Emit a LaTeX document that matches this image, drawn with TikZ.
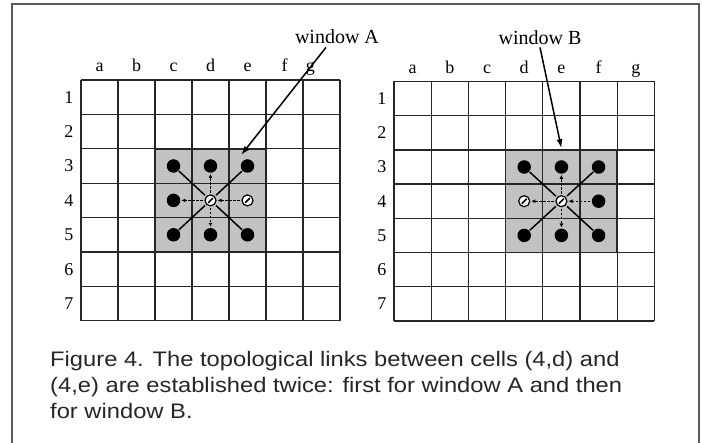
\documentclass[tikz,border=0pt]{standalone}
\usepackage{fontspec}
\usetikzlibrary{arrows.meta,calc}
\newfontfamily\capfont[FakeStretch=1.13]{Liberation Sans}
\newfontfamily\gridfont{Liberation Serif}
\begin{document}
\begin{tikzpicture}[x=1pt,y=-1pt,
  gridline/.style={line width=1.3pt, black!85},
  winfill/.style={fill=black!24},
  winedge/.style={line width=1.6pt, black!85},
  lbl/.style={font=\gridfont\fontsize{18}{20}\selectfont, inner sep=0pt},
  winlbl/.style={font=\gridfont\fontsize{20}{22}\selectfont, inner sep=0pt, anchor=base},
  dot/.style={circle, fill=black, inner sep=0pt, minimum size=13.5pt},
  hatch/.style={circle, draw=black, fill=white, line width=1.2pt, inner sep=0pt, minimum size=11pt,
    path picture={\draw[line width=1.6pt]
      ($(path picture bounding box.south west)!0.28!(path picture bounding box.north east)$) --
      ($(path picture bounding box.south west)!0.72!(path picture bounding box.north east)$);}},
  diag/.style={line width=1.5pt, shorten <=0.5pt, shorten >=1.5pt},
  ortho/.style={line width=1.2pt, dash pattern=on 2.5pt off 1.5pt,
    -{Latex[length=4pt,width=4pt]}, shorten <=1.5pt, shorten >=1pt},
  callout/.style={line width=1.5pt, -{Latex[length=9pt,width=6pt]}},
  captxt/.style={font=\capfont\fontsize{21}{26}\selectfont, inner sep=0pt, anchor=base west, text=black!85}
]
\useasboundingbox (0,0) rectangle (702,443);
% outer frame (open at the bottom)
\draw[line width=1.8pt, black!65] (12,443) -- (12,4) -- (699,4) -- (699,443);

% ---------- left grid (window A) ----------
\begin{scope}[xshift=81pt, yshift=-80pt, x=37pt, y=-34.4pt]
  \fill[winfill] (2,2) rectangle (5,5);
  \foreach \i in {0,...,7} {
    \draw[gridline] (\i,0) -- (\i,7);
    \draw[gridline] (0,\i) -- (7,\i);
  }
  \draw[winedge] (2,2) rectangle (5,5);
  \foreach \c [count=\k from 0] in {a,b,c,d,e,f} {
    \node[lbl, anchor=base] (Acol\c) at (\k+0.5,-0.24) {\c};
  }
  \node[lbl, anchor=base] (Acolg) at (6.2,-0.24) {g};
  \foreach \r in {1,...,7} {
    \node[lbl, anchor=base east] (Arow\r) at (-0.2,\r-0.33) {\r};
  }
  \node[dot]   (A3c) at (2.5,2.5) {};
  \node[dot]   (A3d) at (3.5,2.5) {};
  \node[dot]   (A3e) at (4.5,2.5) {};
  \node[dot]   (A4c) at (2.5,3.5) {};
  \node[hatch] (A4d) at (3.5,3.5) {};
  \node[hatch] (A4e) at (4.5,3.5) {};
  \node[dot]   (A5c) at (2.5,4.5) {};
  \node[dot]   (A5d) at (3.5,4.5) {};
  \node[dot]   (A5e) at (4.5,4.5) {};
  \coordinate (tipA) at (4.33,2.18);
\end{scope}
\draw[diag] (A3c) -- (A4d);
\draw[diag] (A3e) -- (A4d);
\draw[diag] (A5c) -- (A4d);
\draw[diag] (A5e) -- (A4d);
\draw[ortho] (A4d) -- (A3d);
\draw[ortho] (A4d) -- (A5d);
\draw[ortho] (A4d) -- (A4c);
\draw[ortho] (A4e) -- (A4d);

% ---------- right grid (window B) ----------
\begin{scope}[xshift=394pt, yshift=-81.5pt, x=37.2pt, y=-34.2pt]
  \fill[winfill] (3,2) rectangle (6,5);
  \foreach \i in {0,...,7} {
    \draw[gridline] (\i,0) -- (\i,7);
    \draw[gridline] (0,\i) -- (7,\i);
  }
  \draw[winedge] (3,2) rectangle (6,5);
  \foreach \c [count=\k from 0] in {a,b,c,d,e,f,g} {
    \node[lbl, anchor=base] (Bcol\c) at (\k+0.5,-0.24) {\c};
  }
  \foreach \r in {1,...,7} {
    \node[lbl, anchor=base east] (Brow\r) at (-0.2,\r-0.33) {\r};
  }
  \node[dot]   (B3d) at (3.5,2.5) {};
  \node[dot]   (B3e) at (4.5,2.5) {};
  \node[dot]   (B3f) at (5.5,2.5) {};
  \node[hatch] (B4d) at (3.5,3.5) {};
  \node[hatch] (B4e) at (4.5,3.5) {};
  \node[dot]   (B4f) at (5.5,3.5) {};
  \node[dot]   (B5d) at (3.5,4.5) {};
  \node[dot]   (B5e) at (4.5,4.5) {};
  \node[dot]   (B5f) at (5.5,4.5) {};
  \coordinate (tipB) at (4.5,1.95);
\end{scope}
\draw[diag] (B3d) -- (B4e);
\draw[diag] (B3f) -- (B4e);
\draw[diag] (B5d) -- (B4e);
\draw[diag] (B5f) -- (B4e);
\draw[ortho] (B4e) -- (B3e);
\draw[ortho] (B4e) -- (B5e);
\draw[ortho] (B4e) -- (B4d);
\draw[ortho] (B4f) -- (B4e);

% ---------- window labels ----------
\node[winlbl] (labA) at (337,44) {window A};
\node[winlbl] (labB) at (540,45) {window B};
\draw[callout] ([xshift=-11pt, yshift=-3pt]labA.south) -- (tipA);
\draw[callout] ([yshift=-2pt]labB.south) -- (tipB);

% ---------- caption ----------
\node[captxt] (cap1) at (50,366.7) {Figure 4. The topological links between cells (4,d) and};
\node[captxt] (cap2) at (50,392.7) {(4,e) are established twice: first for window A and then};
\node[captxt] (cap3) at (50,418.5) {for window B.};
\end{tikzpicture}
\end{document}
